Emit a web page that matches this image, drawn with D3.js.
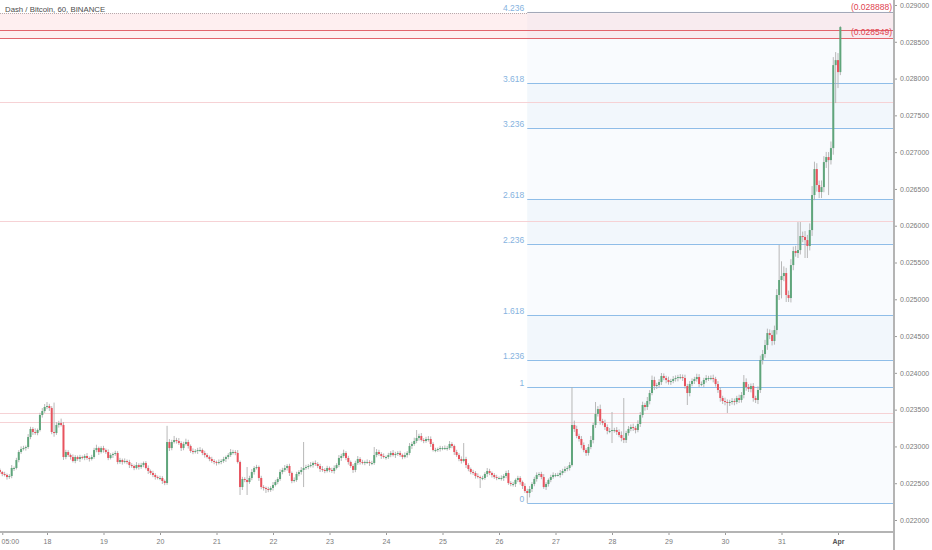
<!DOCTYPE html>
<html><head><meta charset="utf-8">
<script src="https://cdn.jsdelivr.net/npm/d3@7"></script>
<style>
body{margin:0;background:#fff;overflow:hidden}
svg{display:block}
text{font-family:"Liberation Sans",Arial,sans-serif}
</style>
</head><body>
<svg id="c" width="932" height="550"></svg>
<script>
// ---------------- DATA ----------------
const title = "Dash / Bitcoin, 60, BINANCE";
const startTime = "2019-03-17T04:00:00Z";   // first hourly candle
const priceUnit = 1e-6;                      // values below are in 0.000001 BTC
const firstOpen = 22680;
const closes = [
22652,22625,22612,22584,22598,22707,22707,22815,22924,22965,
22978,22992,23128,23237,23196,23182,23223,23427,23481,23536,
23549,23522,23196,23182,23291,23318,23291,22856,22924,22883,
22856,22802,22856,22829,22856,22843,22870,22843,22829,22856,
22951,22978,22924,22978,22951,22924,22843,22883,22897,22911,
22788,22815,22788,22802,22788,22747,22734,22707,22747,22720,
22747,22775,22707,22666,22639,22612,22584,22571,22571,22530,
22503,23060,22978,23060,23087,23074,23046,22978,23033,23060,
23006,22938,22924,22938,22951,22951,22911,22883,22856,22829,
22802,22788,22775,22788,22802,22829,22856,22883,22924,22924,
22911,22788,22448,22557,22544,22516,22571,22652,22707,22720,
22571,22448,22435,22421,22408,22435,22476,22516,22557,22652,
22680,22707,22734,22639,22530,22544,22625,22652,22680,22707,
22720,22734,22747,22775,22761,22734,22693,22680,22666,22707,
22680,22666,22707,22747,22843,22870,22911,22843,22788,22734,
22680,22775,22829,22788,22775,22788,22788,22775,22775,22883,
22924,22897,22870,22856,22856,22883,22911,22883,22897,22911,
22883,22856,22883,22911,23006,23033,23074,23114,23142,23087,
23074,23101,23101,23033,22951,22951,22965,22978,22978,22978,
22978,23033,23006,22924,22883,22829,22802,22829,22747,22693,
22652,22639,22598,22584,22571,22571,22625,22666,22639,22612,
22584,22571,22571,22571,22598,22639,22503,22489,22489,22544,
22571,22516,22462,22394,22367,22421,22489,22557,22612,22625,
22584,22448,22489,22544,22584,22612,22612,22612,22639,22666,
22693,22707,22747,23291,23237,23142,23101,23019,22951,22911,
22992,23087,23291,23441,23508,23345,23318,23264,23210,23210,
23223,23223,23196,23155,23114,23087,23182,23237,23264,23250,
23223,23305,23427,23563,23536,23617,23726,23903,23821,23835,
23875,23957,23930,23903,23875,23889,23916,23930,23943,23943,
23930,23821,23726,23848,23889,23916,23943,23848,23848,23903,
23930,23930,23930,23916,23848,23767,23658,23617,23604,23590,
23604,23617,23604,23658,23631,23699,23875,23807,23780,23821,
23658,23631,23767,24174,24256,24378,24541,24514,24433,24582,
25058,25262,25316,25357,25058,25017,25465,25656,25629,25669,
25860,25847,25805,25724,25941,26417,26770,26553,26458,26525,
26865,26933,26892,27055,28183,28251,28088,28700];
// wick lengths above the body top / below the body bottom (same unit)
const upperWicks = [
20,15,30,20,25,40,20,30,25,35, 30,20,40,30,25,50,20,30,40,40,
55,30,25,400,40,30,60,40,30,25, 20,35,25,20,30,20,25,40,20,30,
30,45,20,25,30,20,35,25,20,30, 25,30,20,35,20,30,25,20,40,25,
30,20,25,35,20,30,25,20,30,25, 20,220,40,30,55,30,40,25,30,45,
30,20,35,25,30,40,20,30,25,20, 30,25,20,35,25,30,20,25,40,30,
25,40,20,30,25,176,30,40,25,30, 20,30,25,20,30,25,40,30,25,35,
30,40,25,30,20,35,30,25,40,353, 30,25,40,20,35,25,30,40,25,30,
20,30,35,25,40,30,45,25,30,20, 25,30,40,25,30,20,35,25,30,109,
40,30,25,35,20,30,25,40,30,25, 30,20,35,25,40,30,45,109,30,40,
25,30,40,35,25,30,20,30,25,35, 30,40,25,20,30,25,35,217,30,25,
20,30,25,35,20,30,25,40,30,20, 25,30,20,35,25,30,40,25,30,20,
30,25,20,35,30,40,25,30,35,25, 30,40,25,20,30,35,25,30,40,30,
35,25,40,516,60,45,30,40,35,25, 40,55,30,163,40,60,30,45,35,40,
245,30,40,35,50,544,30,40,35,45, 30,50,40,45,30,55,40,60,45,30,
40,41,35,30,45,30,40,35,30,40, 35,45,30,40,35,30,45,40,35,30,
40,30,35,45,30,40,35,30,45,35, 30,40,35,30,45,40,95,50,40,35,
40,30,50,60,55,70,60,50,65,60, 80,476,200,90,70,60,80,60,70,380,
190,60,80,70,90,122,100,80,60,90, 80,70,68,90,109,109,95,14];
const lowerWicks = [
25,30,20,35,25,30,40,20,30,25, 20,35,25,30,40,25,30,20,35,25,
30,40,30,50,25,35,20,40,30,25, 35,20,30,25,40,20,30,25,35,20,
25,30,40,20,35,25,30,20,40,25, 30,25,35,20,30,40,25,30,20,35,
25,30,20,40,25,30,35,20,30,40, 30,25,40,30,20,35,25,40,30,20,
35,25,30,20,40,25,30,35,20,30, 25,30,35,20,30,25,40,30,25,35,
30,20,108,40,30,176,25,30,35,20, 40,30,35,54,30,25,35,20,30,25,
30,25,35,40,30,20,25,30,35,232, 25,30,20,35,25,30,40,25,30,20,
30,25,35,20,30,40,25,30,35,25, 40,30,25,35,20,30,25,40,30,25,
30,25,40,20,35,25,30,20,40,25, 25,30,20,35,30,40,25,30,35,20,
30,25,35,40,20,30,25,35,30,25, 35,25,30,40,25,30,35,20,40,30,
30,25,35,20,136,30,25,40,30,35, 25,30,20,35,40,30,25,30,35,40,
30,35,40,25,136,60,40,30,35,25, 30,25,40,35,30,25,30,20,35,30,
25,30,35,20,40,30,35,45,30,40, 35,30,45,40,35,50,30,40,45,30,
164,35,40,30,45,41,40,35,30,40, 45,30,40,35,50,40,45,30,55,40,
35,40,30,45,35,40,30,35,45,30, 40,35,163,45,30,40,35,45,30,40,
35,40,30,45,35,40,50,40,45,136, 40,35,45,30,40,35,45,50,40,45,
50,40,55,40,60,50,65,55,60,50, 60,68,250,70,95,54,60,70,50,68,
60,70,244,163,60,80,70,90,82,82, 70,80,475,60,90,516,217,41];

const priceTicks = [0.022,0.0225,0.023,0.0235,0.024,0.0245,0.025,0.0255,0.026,0.0265,0.027,0.0275,0.028,0.0285,0.029];
const timeTicks = ["2019-03-17T05:00:00Z","2019-03-18T00:00:00Z","2019-03-19T00:00:00Z","2019-03-20T00:00:00Z",
  "2019-03-21T00:00:00Z","2019-03-22T00:00:00Z","2019-03-23T00:00:00Z","2019-03-24T00:00:00Z",
  "2019-03-25T00:00:00Z","2019-03-26T00:00:00Z","2019-03-27T00:00:00Z","2019-03-28T00:00:00Z",
  "2019-03-29T00:00:00Z","2019-03-30T00:00:00Z","2019-03-31T00:00:00Z","2019-04-01T00:00:00Z"];

// Fibonacci extension drawing
const fibLevels = [0, 1, 1.236, 1.618, 2.236, 2.618, 3.236, 3.618, 4.236];
const fibLow = 0.022231, fibHigh = 0.023808;
const fibStartIndex = 224;
const fibShadedBands = [[1.236,1.618],[2.236,2.618],[3.236,3.618]];
// horizontal levels
const faintLevels = [0.027682, 0.026064, 0.023454, 0.023332];
const zoneTop = 0.028888, zoneBottom = 0.028549, zoneMidLine = 0.028662;

// ---------------- CHART ----------------
const plotR = 894, plotB = 532;
const svg = d3.select("#c");
const t0 = new Date(startTime), HOUR = 3600e3;
const candles = closes.map((c,i) => {
  const o = i ? closes[i-1] : firstOpen;
  return { t: new Date(+t0 + i*HOUR), o: o*priceUnit, c: c*priceUnit,
           h: (Math.max(o,c)+upperWicks[i])*priceUnit, l: (Math.min(o,c)-lowerWicks[i])*priceUnit };
});
const x = d3.scaleUtc().domain([new Date("2019-03-18T00:00:00Z"), new Date("2019-04-01T00:00:00Z")]).range([47, 838]);
const y = d3.scaleLinear().domain([0.022, 0.029]).range([520, 5]);

svg.append("defs").append("clipPath").attr("id","clip").append("rect")
  .attr("x",0).attr("y",0).attr("width",plotR).attr("height",plotB);
const g = svg.append("g").attr("clip-path","url(#clip)");

const fibPrice = lv => fibLow + lv*(fibHigh-fibLow);
const fx0 = x(candles[fibStartIndex].t);

// fib background
g.append("rect").attr("x",fx0).attr("width",plotR-fx0)
  .attr("y",y(fibPrice(4.236))).attr("height",y(fibPrice(0))-y(fibPrice(4.236)))
  .attr("fill","#f9fbfe");
g.selectAll("rect.band").data(fibShadedBands).join("rect").attr("class","band")
  .attr("x",fx0).attr("width",plotR-fx0)
  .attr("y",d=>y(fibPrice(d[1]))).attr("height",d=>y(fibPrice(d[0]))-y(fibPrice(d[1])))
  .attr("fill","#f2f7fc");

// pink zone
g.append("rect").attr("x",0).attr("width",plotR)
  .attr("y",y(zoneTop)).attr("height",y(zoneBottom)-y(zoneTop))
  .attr("fill","#f23645").attr("fill-opacity",0.08);

// faint horizontal lines
g.selectAll("line.faint").data(faintLevels).join("line").attr("class","faint")
  .attr("x1",0).attr("x2",plotR).attr("y1",d=>Math.round(y(d))+0.5).attr("y2",d=>Math.round(y(d))+0.5)
  .attr("stroke","#f6d2d5").attr("stroke-width",1);

// fib lines & labels
g.selectAll("line.fib").data(fibLevels).join("line").attr("class","fib")
  .attr("x1",fx0).attr("x2",plotR)
  .attr("y1",d=>Math.round(y(fibPrice(d)))+0.5).attr("y2",d=>Math.round(y(fibPrice(d)))+0.5)
  .attr("stroke",d=>d===4.236 ? "#a3a8b8" : "#8fbde8").attr("stroke-width",1);
g.selectAll("text.fib").data(fibLevels).join("text").attr("class","fib")
  .attr("x",fx0-3).attr("y",d=>y(fibPrice(d))-1).attr("text-anchor","end")
  .attr("font-size",8.5).attr("fill","#86b3e0").text(d=>d3.format("")(d));

// zone borders
g.append("line").attr("x1",0).attr("x2",fx0).attr("y1",Math.round(y(zoneTop))+0.5).attr("y2",Math.round(y(zoneTop))+0.5)
  .attr("stroke","#b7a9ac").attr("stroke-width",1).attr("stroke-dasharray","1,1");
g.append("line").attr("x1",0).attr("x2",plotR).attr("y1",Math.round(y(zoneMidLine))+0.5).attr("y2",Math.round(y(zoneMidLine))+0.5)
  .attr("stroke","#e2646c").attr("stroke-width",1);
g.append("line").attr("x1",0).attr("x2",plotR).attr("y1",Math.round(y(zoneBottom))+0.5).attr("y2",Math.round(y(zoneBottom))+0.5)
  .attr("stroke","#e2646c").attr("stroke-width",1.2);

// candles
const bw = 2;
g.selectAll("line.wick").data(candles).join("line").attr("class","wick")
  .attr("x1",d=>x(d.t)).attr("x2",d=>x(d.t)).attr("y1",d=>y(d.h)).attr("y2",d=>y(d.l))
  .attr("stroke","#b0b0b0").attr("stroke-width",0.9);
g.selectAll("rect.body").data(candles).join("rect").attr("class","body")
  .attr("x",d=>x(d.t)-bw/2).attr("width",bw)
  .attr("y",d=>y(Math.max(d.o,d.c)))
  .attr("height",d=>Math.max(1,Math.abs(y(d.o)-y(d.c))))
  .attr("fill",d=>d.c>=d.o ? "#5fa57b" : "#e8535e");

// red price labels
[zoneTop, zoneBottom].forEach(p => {
  svg.append("text").attr("x",plotR-2).attr("y",y(p)-3).attr("text-anchor","end")
    .attr("font-size",8.5).attr("fill","#e0434f").text("(" + d3.format(".6f")(p) + ")");
});

// axes
const ya = svg.append("g").attr("transform",`translate(${plotR},0)`)
  .call(d3.axisRight(y).tickValues(priceTicks).tickFormat(d3.format(".6f")).tickSize(3).tickPadding(3));
ya.select(".domain").remove();
ya.selectAll(".tick line").attr("stroke","#9a9a9a");
ya.selectAll(".tick text").attr("font-size",7).attr("fill","#7a7a7a").attr("font-family","Liberation Sans, Arial, sans-serif");

const xa = svg.append("g").attr("transform",`translate(0,${plotB})`)
  .call(d3.axisBottom(x).tickValues(timeTicks.map(s=>new Date(s)))
    .tickFormat(d => d.getUTCHours() ? d3.utcFormat("%H:%M")(d) : (d.getUTCDate()===1 ? d3.utcFormat("%b")(d) : d3.utcFormat("%-d")(d)))
    .tickSize(3).tickPadding(4));
xa.select(".domain").remove();
xa.selectAll(".tick line").attr("stroke","#9a9a9a");
xa.selectAll(".tick text").attr("font-size",7).attr("fill","#7a7a7a").attr("font-family","Liberation Sans, Arial, sans-serif");
xa.selectAll(".tick text").filter(d => d.getUTCDate()===1 && !d.getUTCHours()).attr("font-weight","bold").attr("fill","#555");
// keep the first (partial-day) label inside the frame
xa.selectAll(".tick text").filter(d => d.getUTCHours()!==0)
  .attr("text-anchor","start").attr("x", function(d){ return 1 - x(d); });

svg.append("line").attr("x1",0).attr("x2",plotR).attr("y1",plotB).attr("y2",plotB)
  .attr("stroke","#b4b4b4").attr("stroke-width",2);
svg.append("line").attr("x1",plotR).attr("x2",plotR).attr("y1",0).attr("y2",550)
  .attr("stroke","#b4b4b4").attr("stroke-width",2);

// title
svg.append("text").attr("x",5).attr("y",12).attr("font-size",7.8).attr("fill","#4d4d4d").text(title);
</script>
</body></html>
